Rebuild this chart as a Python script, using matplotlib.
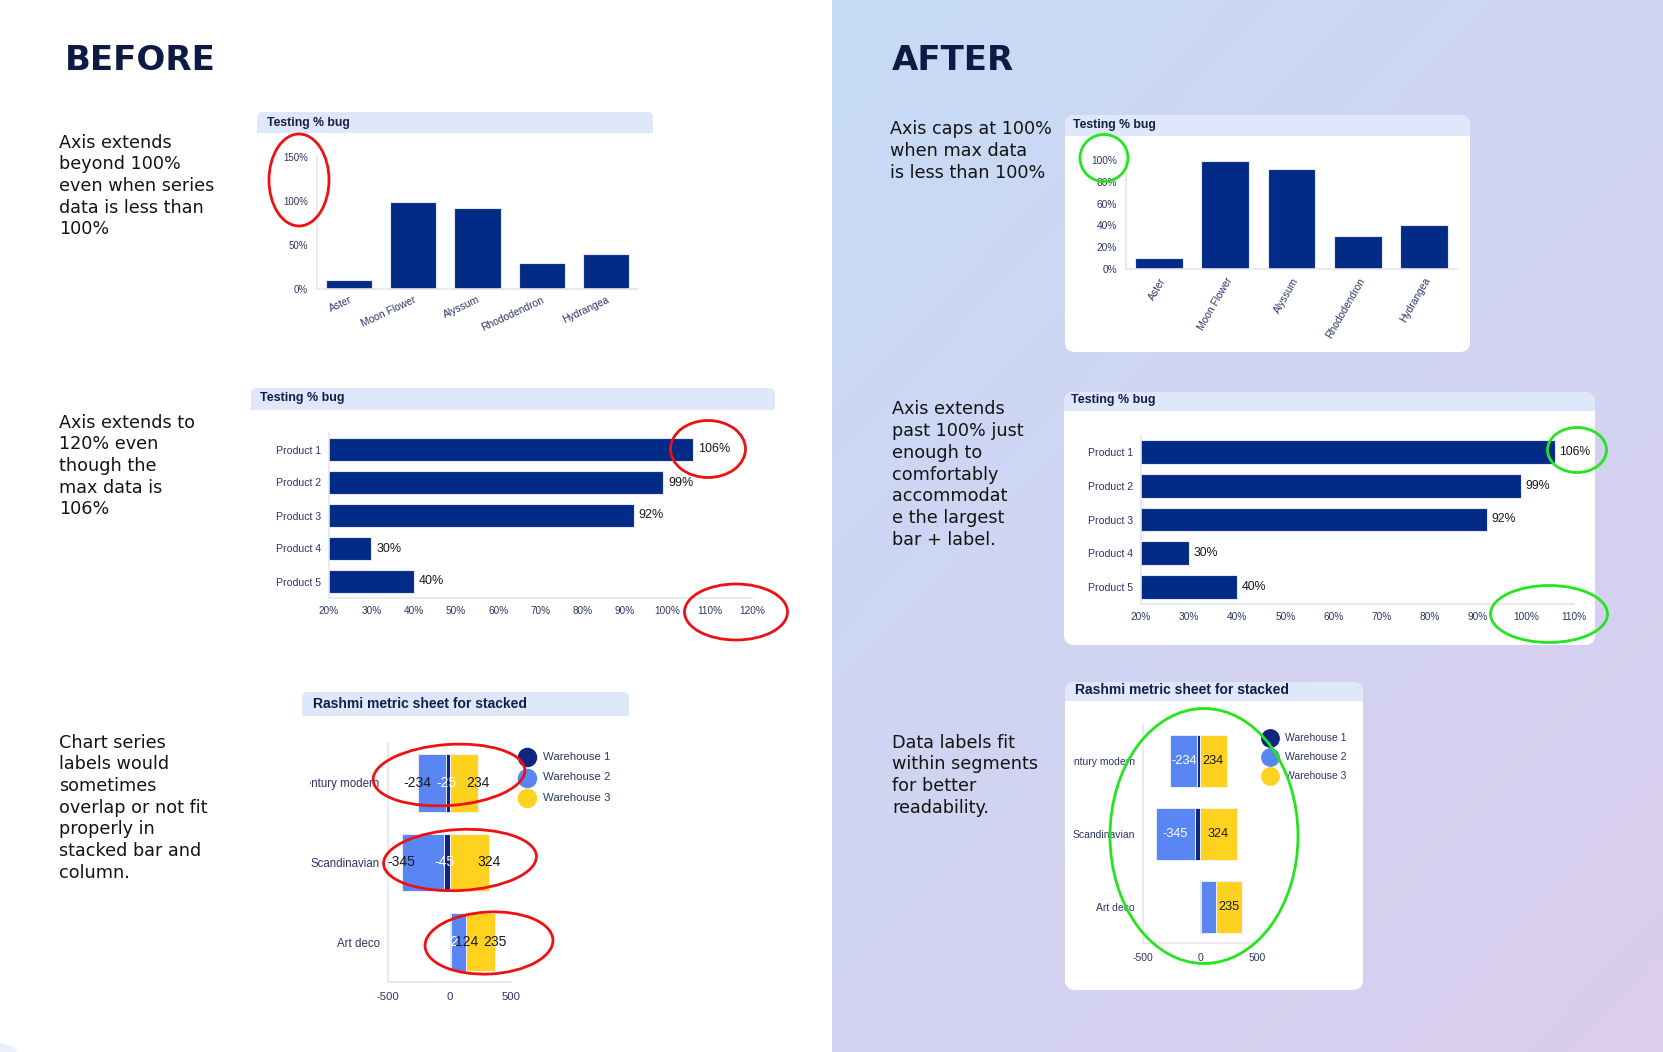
import matplotlib
matplotlib.use("Agg")
import matplotlib.pyplot as plt
import numpy as np
from matplotlib.patches import FancyBboxPatch, Rectangle, Ellipse, Circle
from matplotlib.transforms import Bbox

# ---------------- data ----------------
flowers = ["Aster", "Moon Flower", "Alyssum", "Rhododendron", "Hydrangea"]
flower_pct = [10, 99, 92, 30, 40]
products = ["Product 1", "Product 2", "Product 3", "Product 4", "Product 5"]
product_pct = [106, 99, 92, 30, 40]
styles = ["Mid century modern", "Scandinavian", "Art deco"]
warehouses = ["Warehouse 1", "Warehouse 2", "Warehouse 3"]
wh1 = [-25, -45, 12]
wh2 = [-234, -345, 124]
wh3 = [234, 324, 235]
before_flower_ticks = [0, 50, 100, 150]
after_flower_ticks = [0, 20, 40, 60, 80, 100]
before_prod_ticks = [20, 30, 40, 50, 60, 70, 80, 90, 100, 110, 120]
after_prod_ticks = [20, 30, 40, 50, 60, 70, 80, 90, 100, 110]
stack_ticks = [-500, 0, 500]

notes_before = [
    ["Axis extends", "beyond 100%", "even when series", "data is less than", "100%"],
    ["Axis extends to", "120% even", "though the", "max data is", "106%"],
    ["Chart series", "labels would", "sometimes", "overlap or not fit", "properly in",
     "stacked bar and", "column."],
]
notes_after = [
    ["Axis caps at 100%", "when max data", "is less than 100%"],
    ["Axis extends", "past 100% just", "enough to", "comfortably", "accommodat",
     "e the largest", "bar + label."],
    ["Data labels fit", "within segments", "for better", "readability."],
]

# ---------------- style ----------------
plt.rcParams["font.family"] = ["Liberation Sans", "DejaVu Sans"]
NAVY = "#022b88"
W1C, W2C, W3C = "#0f2580", "#5a86f3", "#ffd21f"
TICK = "#2b3766"
TITLE = "#141d45"
HEAD = "#dfe7fb"
AXL = "#e4e6ea"
BODY = "DejaVu Sans"

W, H = 1663, 1052
fig = plt.figure(figsize=(W / 100, H / 100), dpi=100)
fig.patch.set_facecolor("white")

bg = fig.add_axes([0, 0, 1, 1])
bg.set_zorder(-5)
bg.axis("off")

# right gradient panel
nx, ny = 120, 120
X, Y = np.meshgrid(np.linspace(0, 1, nx), np.linspace(0, 1, ny))
t = np.clip(X * 0.45 + Y * 0.55, 0, 1)
c0 = np.array([0xc6, 0xdb, 0xf5]) / 255
c1 = np.array([0xdb, 0xcd, 0xee]) / 255
img = c0 + (c1 - c0) * t[..., None]
bg.imshow(img, extent=[832, W, H, 0], aspect="auto", interpolation="bilinear", zorder=0)
bg.add_patch(Circle((0, 1066), 22, color="#eceefb", zorder=1))
bg.set_xlim(0, W)
bg.set_ylim(H, 0)

fg = fig.add_axes([0, 0, 1, 1])
fg.set_zorder(10)
fg.axis("off")
fg.patch.set_visible(False)
fg.set_xlim(0, W)
fg.set_ylim(H, 0)


def header(x0, x1, y0, y1, r=6):
    bg.add_patch(FancyBboxPatch((x0, y0), x1 - x0, y1 - y0,
                                boxstyle=f"round,pad=0,rounding_size={r}",
                                fc=HEAD, ec="none", zorder=3))
    bg.add_patch(Rectangle((x0, y0 + r), x1 - x0, y1 - y0 - r, fc=HEAD, ec="none", zorder=3))


def card(x0, x1, y0, y1, hy1, r=10):
    bg.add_patch(FancyBboxPatch((x0, y0), x1 - x0, y1 - y0,
                                boxstyle=f"round,pad=0,rounding_size={r}",
                                fc="white", ec="none", zorder=2))
    header(x0, x1, y0, hy1, r)


def title(x, y, s, size):
    bg.text(x, y, s, fontsize=size, fontweight="bold", color=TITLE,
            va="center", ha="left", zorder=4)


def add_ax(x0, y0, x1, y1):
    ax = fig.add_axes([x0 / W, 1 - y1 / H, (x1 - x0) / W, (y1 - y0) / H])
    ax.patch.set_visible(False)
    for s in ["top", "right"]:
        ax.spines[s].set_visible(False)
    for s in ["left", "bottom"]:
        ax.spines[s].set_color(AXL)
        ax.spines[s].set_linewidth(1.2)
    ax.tick_params(length=0, colors=TICK)
    return ax


def note(x, y0, lines, step=21.7):
    for i, s in enumerate(lines):
        bg.text(x, y0 + 6.5 + i * step, s, family=BODY, fontsize=12.7,
                color="#141414", va="baseline", ha="left", zorder=4)


def ell(cx, cy, w, h, col, ang=0):
    fg.add_patch(Ellipse((cx, cy), w, h, angle=ang, fill=False, ec=col, lw=2.0, zorder=5))


RED, GREEN = "#ee1111", "#22e61c"

# ---------------- headings & notes ----------------
bg.text(65, 69.5, "BEFORE", family=BODY, fontsize=24.5, fontweight="bold",
        color="#0d1a45", va="baseline", zorder=4)
bg.text(892, 69.5, "AFTER", family=BODY, fontsize=24.5, fontweight="bold",
        color="#0d1a45", va="baseline", zorder=4)
note(59, 141, notes_before[0])
note(59, 421, notes_before[1])
note(59, 741, notes_before[2])
note(890, 128, notes_after[0])
note(892, 408, notes_after[1])
note(892, 741, notes_after[2])

# ---------------- BEFORE 1 : column chart ----------------
header(257, 653, 112, 133)
title(267, 123, "Testing % bug", 8.8)
ax = add_ax(317, 157, 638, 289)
xs = np.arange(len(flowers))
ax.bar(xs, flower_pct, width=0.72, color=NAVY, edgecolor="#e3e8f5", linewidth=0.8)
ax.set_xlim(-0.5, len(flowers) - 0.5)
ax.set_ylim(0, max(before_flower_ticks))
ax.set_yticks(before_flower_ticks, [f"{v}%" for v in before_flower_ticks], fontsize=7)
ax.set_xticks(xs, flowers, fontsize=7.4, rotation=25, ha="right", va="top",
              rotation_mode="anchor")
ax.tick_params(axis="y", pad=6.5)
ax.tick_params(axis="x", pad=4)
ell(299, 180, 60, 92, RED)

# ---------------- BEFORE 2 : horizontal bars ----------------
header(251, 775, 388, 410)
title(260, 398, "Testing % bug", 9)
ax = add_ax(329, 433, 752, 598)
ys = np.arange(len(products))
ax.barh(ys, product_pct, height=0.71, color=NAVY, edgecolor="#e3e8f5", linewidth=0.8)
ax.set_ylim(len(products) - 0.5, -0.5)
ax.set_xlim(min(before_prod_ticks), max(before_prod_ticks))
ax.set_xticks(before_prod_ticks, [f"{v}%" for v in before_prod_ticks], fontsize=7.2)
ax.set_yticks(ys, products, fontsize=7.6)
ax.tick_params(axis="y", pad=5.5)
ax.tick_params(axis="x", pad=6)
for yv, v in zip(ys, product_pct):
    ax.annotate(f"{v}%", (v, yv), xytext=(3.5, 0), textcoords="offset points",
                va="center", ha="left", fontsize=9, color="#1a1a1a")
ell(708, 449, 75, 57, RED)
ell(736, 612, 103, 56, RED)


# ---------------- stacked helper ----------------
def stacked(ax, series, colors):
    yy = np.arange(len(styles))
    pos = np.zeros(len(styles))
    neg = np.zeros(len(styles))
    segs = []
    for vals, col in zip(series, colors):
        v = np.array(vals, dtype=float)
        left = np.where(v >= 0, pos, neg)
        ax.barh(yy, v, left=left, height=0.72, color=col, edgecolor="#f2f4fb", linewidth=0.6)
        segs.append((left, v))
        pos = pos + np.where(v >= 0, v, 0)
        neg = neg + np.where(v < 0, v, 0)
    return yy, segs


series = [wh1, wh2, wh3]
colors = [W1C, W2C, W3C]
lab_cols = ["white", "#1a1a1a", "#1a1a1a"]

# ---------------- BEFORE 3 : stacked ----------------
header(302, 629, 692, 716)
title(313, 704, "Rashmi metric sheet for stacked", 10)
ax = add_ax(388, 743, 511, 982)
yy, segs = stacked(ax, series, colors)
ax.set_xlim(min(stack_ticks), max(stack_ticks))
ax.set_ylim(len(styles) - 0.5, -0.5)
ax.set_xticks(stack_ticks, [str(v) for v in stack_ticks], fontsize=8.2)
ax.set_yticks(yy, styles, fontsize=8.3)
ax.tick_params(axis="y", pad=6)
ax.tick_params(axis="x", pad=7)
for lbl in ax.get_yticklabels():
    lbl.set_clip_on(True)
    lbl.set_clip_box(Bbox([[310, 0], [W, H]]))
for (left, v), lc in zip(segs, lab_cols):
    for yv, l0, vv in zip(yy, left, v):
        ax.text(l0 + vv, yv, f"{int(vv)}", ha="center", va="center", fontsize=10,
                color=lc, clip_on=False)
for i, (name, col) in enumerate(zip(warehouses, colors)):
    fg.plot([527], [757 + i * 20.5], "o", ms=13, color=col, zorder=2)
    fg.text(543, 757 + i * 20.5, name, fontsize=8.2, color=TICK, va="center", zorder=2)
ell(449, 775, 152, 61, RED, -4)
ell(460, 860, 153, 61, RED, -3)
ell(489, 943, 128, 62, RED, -3)

# ---------------- AFTER 1 : column chart ----------------
card(1065, 1470, 115, 352, 136)
title(1073, 125, "Testing % bug", 8.8)
ax = add_ax(1126, 160, 1457, 269)
ax.bar(xs, flower_pct, width=0.72, color=NAVY, edgecolor="#e3e8f5", linewidth=0.8)
ax.set_xlim(-0.5, len(flowers) - 0.5)
ax.set_ylim(0, max(after_flower_ticks))
ax.set_yticks(after_flower_ticks, [f"{v}%" for v in after_flower_ticks], fontsize=7.3)
ax.set_xticks(xs, flowers, fontsize=7.4, rotation=60, ha="right", va="top",
              rotation_mode="anchor")
ax.tick_params(axis="y", pad=6.5)
ax.tick_params(axis="x", pad=5)
ell(1104, 158, 48, 47, GREEN)

# ---------------- AFTER 2 : horizontal bars ----------------
card(1064, 1595, 392, 645, 411)
title(1071, 400, "Testing % bug", 9)
ax = add_ax(1141, 435, 1574, 604)
ax.barh(ys, product_pct, height=0.71, color=NAVY, edgecolor="#e3e8f5", linewidth=0.8)
ax.set_ylim(len(products) - 0.5, -0.5)
ax.set_xlim(min(after_prod_ticks), max(after_prod_ticks))
ax.set_xticks(after_prod_ticks, [f"{v}%" for v in after_prod_ticks], fontsize=7.3)
ax.set_yticks(ys, products, fontsize=7.6)
ax.tick_params(axis="y", pad=6)
ax.tick_params(axis="x", pad=6)
for yv, v in zip(ys, product_pct):
    ax.annotate(f"{v}%", (v, yv), xytext=(3, 0), textcoords="offset points",
                va="center", ha="left", fontsize=8.8, color="#1a1a1a", annotation_clip=False)
ell(1577, 450, 59, 45, GREEN)
ell(1549, 614, 117, 57, GREEN)

# ---------------- AFTER 3 : stacked ----------------
card(1065, 1363, 682, 990, 701)
title(1075, 690, "Rashmi metric sheet for stacked", 10)
ax = add_ax(1143, 725, 1257, 943)
yy, segs = stacked(ax, series, colors)
ax.set_xlim(min(stack_ticks), max(stack_ticks))
ax.set_ylim(len(styles) - 0.5, -0.5)
ax.set_xticks(stack_ticks, [str(v) for v in stack_ticks], fontsize=7.5)
ax.set_yticks(yy, styles, fontsize=7.5)
ax.tick_params(axis="y", pad=6)
ax.tick_params(axis="x", pad=7)
for lbl in ax.get_yticklabels():
    lbl.set_clip_on(True)
    lbl.set_clip_box(Bbox([[1073, 0], [W, H]]))
after_cols = ["white", "white", "#1a1a1a"]
for (left, v), lc in zip(segs, after_cols):
    for yv, l0, vv in zip(yy, left, v):
        if abs(vv) >= 200:  # label only where it fits inside its segment
            ax.text(l0 + vv / 2, yv, f"{int(vv)}", ha="center", va="center",
                    fontsize=9.2, color=lc)
for i, (name, col) in enumerate(zip(warehouses, colors)):
    fg.plot([1270], [738 + i * 19], "o", ms=12.5, color=col, zorder=2)
    fg.text(1285, 738 + i * 19, name, fontsize=7.5, color=TICK, va="center", zorder=2)
ell(1204, 836, 188, 255, GREEN)

fig.savefig("out.png", dpi=100)
